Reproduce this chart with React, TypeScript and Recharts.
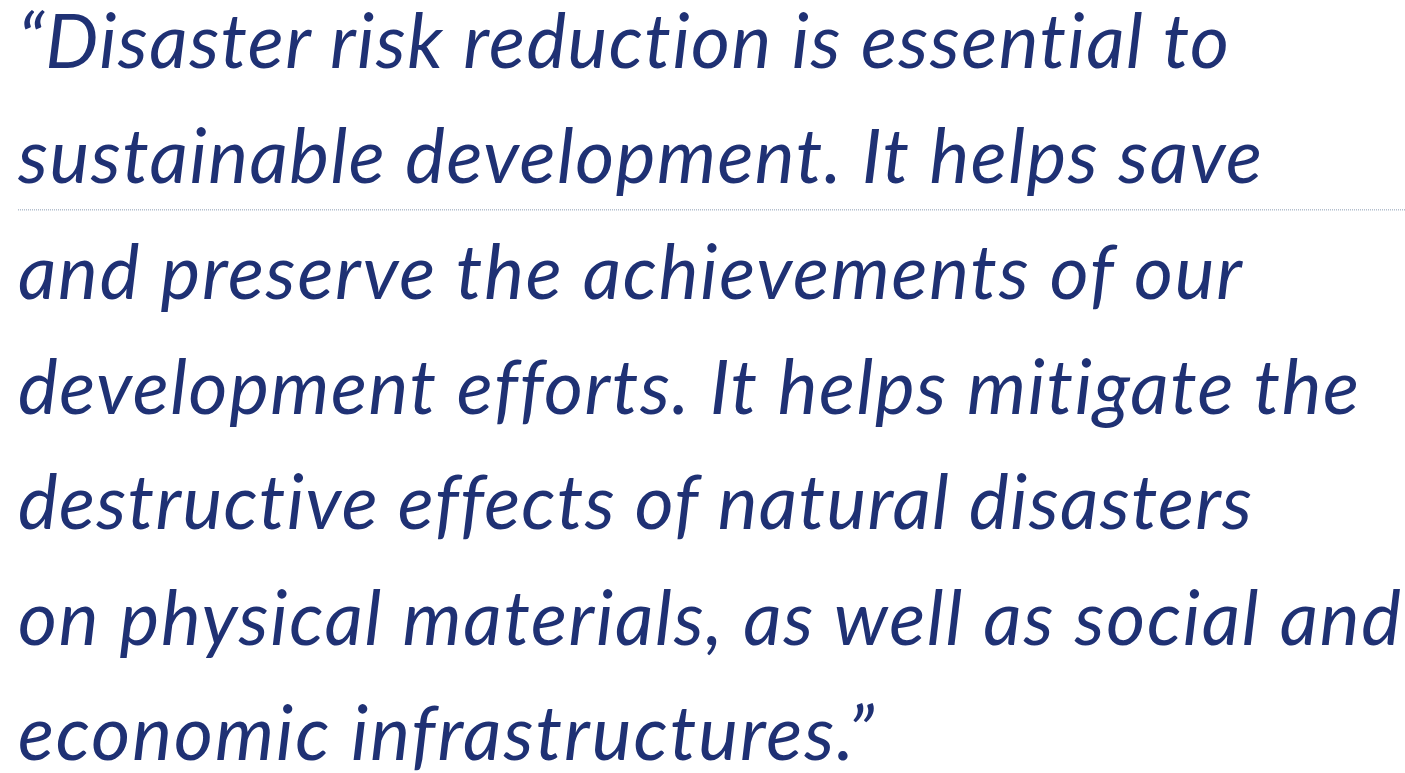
import React from 'react';
import { ScatterChart, Scatter, XAxis, YAxis, ReferenceLine } from 'recharts';

// quote lines, one row each (top to bottom)
const quoteLines: string[] = [
  '\u201CDisaster risk reduction is essential to',
  'sustainable development. It helps save',
  'and preserve the achievements of our',
  'development efforts. It helps mitigate the',
  'destructive effects of natural disasters',
  'on physical materials, as well as social and',
  'economic infrastructures.\u201D',
];

const rows = quoteLines.map((text, i) => ({ col: 0, row: i, text }));

// rendered length of each line, so the fallback font wraps like the original
const lineLengths = [1211, 1244, 1224, 1341, 1234, 1383, 856];

const TEXT_COLOR = '#1f3174';

const QuoteLine = (props: any) => {
  const { cx, cy, payload } = props;
  return (
    <text
      x={cx}
      y={cy}
      fill={TEXT_COLOR}
      fontFamily="Lato, 'Open Sans', sans-serif"
      fontStyle="italic"
      fontSize={75}
      textLength={lineLengths[payload.row]}
      lengthAdjust="spacing"
      style={{ fontVariantLigatures: 'none', fontFeatureSettings: '"liga" 0' }}
    >
      {payload.text}
    </text>
  );
};

const App: React.FC = () => {
  return (
    <div style={{ position: 'absolute', left: 0, top: 0, background: '#fff' }}>
      <ScatterChart width={1405} height={773} margin={{ top: 68, right: 0, bottom: 13, left: 18 }}>
        <XAxis type="number" dataKey="col" domain={[0, 1]} hide />
        <YAxis type="number" dataKey="row" domain={[0, 6]} reversed hide />
        <ReferenceLine y={1.23} stroke="#8c9db3" strokeDasharray="1 1" ifOverflow="visible" />
        <Scatter data={rows} shape={<QuoteLine />} isAnimationActive={false} />
      </ScatterChart>
    </div>
  );
};

export default App;
